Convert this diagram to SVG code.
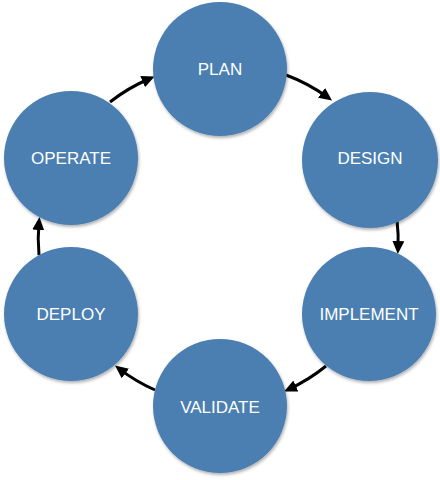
<svg xmlns="http://www.w3.org/2000/svg" width="440" height="480" viewBox="0 0 440 480">
<style>
.node circle{fill:#4b7fb1;filter:url(#sh)}
.node text{fill:#ffffff;font-family:"Liberation Sans",Arial,sans-serif;font-size:17px;text-anchor:middle}
.conn path{fill:none;stroke:#000;stroke-width:3;marker-end:url(#ah)}
</style>
<defs>
<filter id="sh" x="-20%" y="-20%" width="140%" height="140%">
<feDropShadow dx="1" dy="2" stdDeviation="1.5" flood-color="#000" flood-opacity="0.3"/>
</filter>
<marker id="ah" markerUnits="userSpaceOnUse" markerWidth="14" markerHeight="14" refX="8" refY="6" orient="auto">
<path d="M0,0 L13,6 L0,12 z" fill="#000"/>
</marker>
</defs>
<rect width="440" height="480" fill="#fff"/>
<g class="conn">
<path d="M110,102 A175,175 0 0 1 150,78.5"/>
<path d="M286,75 A175,175 0 0 1 328,97.5"/>
<path d="M397,220 A175,175 0 0 1 398,249"/>
<path d="M326,366 A175,175 0 0 1 288.6,389.3"/>
<path d="M155,390 A175,175 0 0 1 119,368.6"/>
<path d="M39,255 A175,175 0 0 1 39,222"/>
</g>
<g id="plan" class="node"><circle cx="220" cy="69" r="67"/><text x="220" y="75">PLAN</text></g>
<g id="design" class="node"><circle cx="370" cy="160" r="68"/><text x="370" y="164">DESIGN</text></g>
<g id="implement" class="node"><circle cx="369" cy="314" r="67"/><text x="369" y="320">IMPLEMENT</text></g>
<g id="validate" class="node"><circle cx="220" cy="406" r="67"/><text x="220" y="413">VALIDATE</text></g>
<g id="deploy" class="node"><circle cx="71" cy="314" r="67"/><text x="71" y="320">DEPLOY</text></g>
<g id="operate" class="node"><circle cx="71" cy="158" r="67"/><text x="71" y="164">OPERATE</text></g>
</svg>
